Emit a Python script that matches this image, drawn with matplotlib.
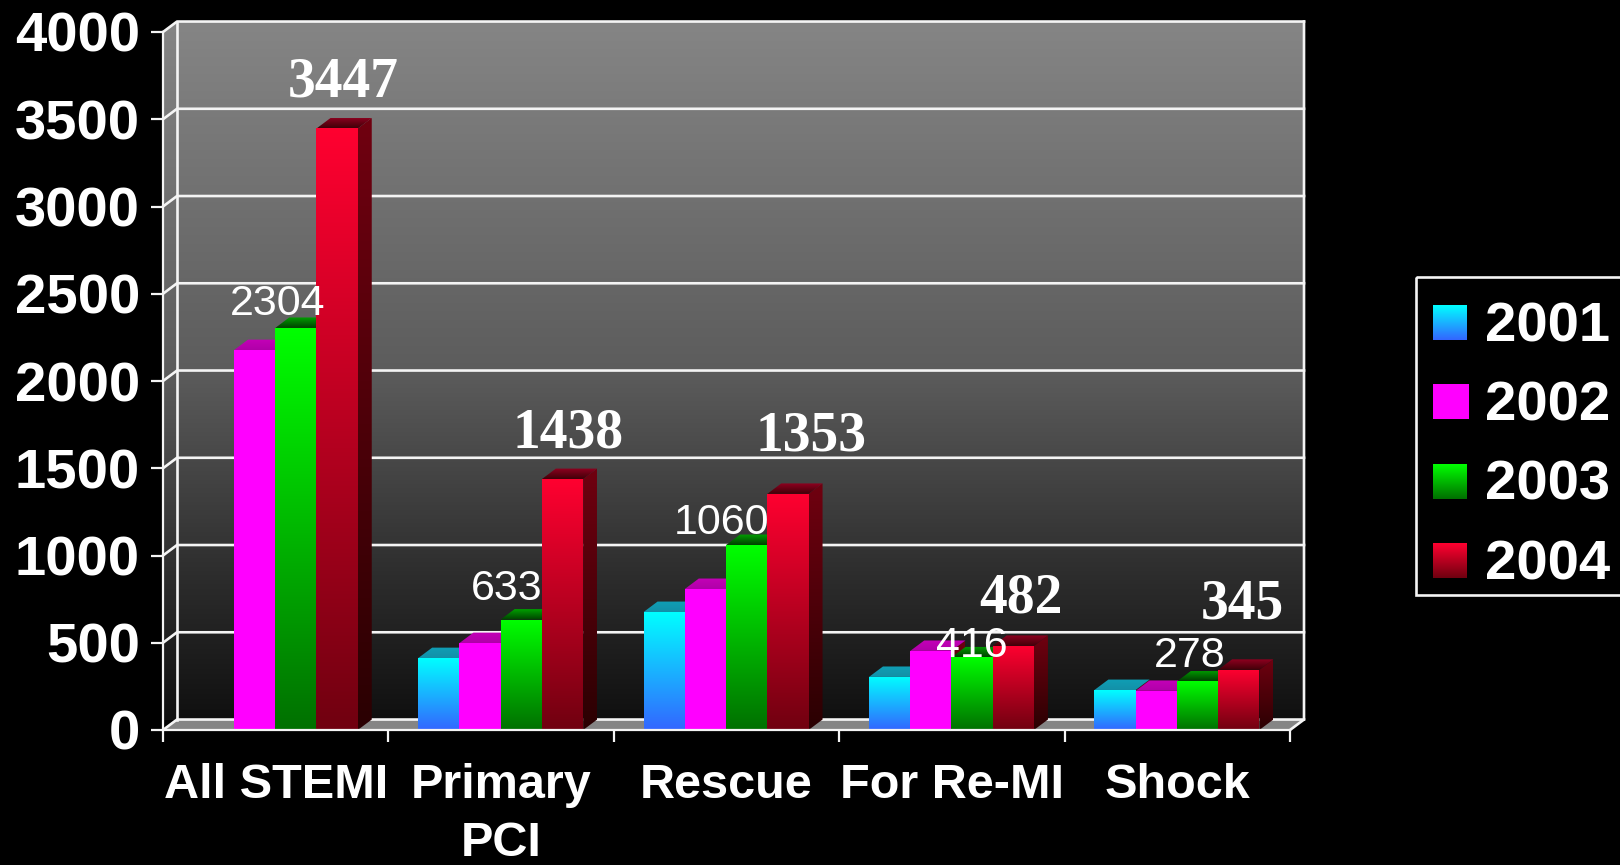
import numpy as np
import matplotlib
matplotlib.use("Agg")
import matplotlib.pyplot as plt
from matplotlib.colors import LinearSegmentedColormap
from matplotlib.patches import Polygon, Rectangle

# data
categories = ["All STEMI", "Primary\nPCI", "Rescue", "For Re-MI", "Shock"]
years = ["2001", "2002", "2003", "2004"]
v2001 = [np.nan, 412, 676, 304, 229]
v2002 = [2177, 498, 808, 453, 224]
v2003 = [2304, 633, 1060, 416, 278]
v2004 = [3447, 1438, 1353, 482, 345]
yticks = [0, 500, 1000, 1500, 2000, 2500, 3000, 3500, 4000]

# front colour, bottom colour, top-face colours
styles = [
    ("#00ffff", "#3366ff", "#0f9fb5", "#1390a8"),
    ("#ff00ff", "#ff00ff", "#c400b8", "#b000a8"),
    ("#00ff00", "#007000", "#00a000", "#004000"),
    ("#ff0030", "#700010", "#900020", "#400008"),
]
side_top, side_bot = "#700010", "#2a0002"

# pixel offsets of the value labels from the bar top centre
green_nudge = [(-18, 13), (-15, 20), (-25, 11), (0, 0), (-8, 14)]
red_nudge = [(6, 32), (6, 32), (23, 43), (8, 33), (4, 51)]

W, H = 1620, 865
fig = plt.figure(figsize=(W / 100, H / 100), dpi=100, facecolor="black")
ax = fig.add_axes([163 / W, 1 - 730 / H, (1290 - 163) / W, (730 - 32) / H])
ax.set_facecolor("none")

DX = 14 / 225.4   # depth of the 3d box in data units
DY = 60
BAR = 0.183
START = 0.132


def shade(poly, top, bottom, z):
    pts = np.array(poly)
    cmap = LinearSegmentedColormap.from_list("g", [top, bottom])
    ramp = np.linspace(0, 1, 256).reshape(-1, 1)
    im = ax.imshow(ramp, cmap=cmap, aspect="auto", zorder=z,
                   extent=(pts[:, 0].min(), pts[:, 0].max(), pts[:, 1].min(), pts[:, 1].max()))
    im.set_clip_box(fig.bbox)
    im.set_clip_path(Polygon(pts, transform=ax.transData))


# back wall
wall_pts = [(0, 0), (0, 4000), (DX, 4000 + DY), (5 + DX, 4000 + DY), (5 + DX, DY), (5, 0)]
wall_cmap = LinearSegmentedColormap.from_list(
    "wall", [(0, "#858585"), (0.5, "#5c5c5c"), (0.8, "#2c2c2c"), (1, "#101010")])
im = ax.imshow(np.linspace(0, 1, 256).reshape(-1, 1), cmap=wall_cmap, aspect="auto", zorder=1,
               extent=(0, 5 + DX, DY, 4000 + DY))
im.set_clip_box(fig.bbox)
im.set_clip_path(Polygon(wall_pts, transform=ax.transData))

# floor
ax.add_patch(Polygon([(0, 0), (DX, DY), (5 + DX, DY), (5, 0)], facecolor="#858585",
                     edgecolor="none", zorder=2, clip_on=False))

# grid and box edges
line = dict(color="#f4f4f4", lw=1.9, clip_on=False, zorder=3, solid_capstyle="projecting")
for t in yticks:
    ax.plot([0, DX, 5 + DX], [t, t + DY, t + DY], **line)
ax.plot([DX, DX], [DY, 4000 + DY], **line)
ax.plot([5, 5 + DX, 5 + DX], [0, DY, 4000 + DY], **line)

# bars
series = [v2001, v2002, v2003, v2004]
z = 10
for c in range(len(categories)):
    for s, vals in enumerate(series):
        v = vals[c]
        if np.isnan(v):
            continue
        x0 = c + START + s * BAR
        x1 = x0 + BAR
        front, bottom, top_back, top_front = styles[s]
        shade([(x1, 0), (x1 + DX, DY), (x1 + DX, v + DY), (x1, v)], side_top, side_bot, z)
        shade([(x0, v), (x0 + DX, v + DY), (x1 + DX, v + DY), (x1, v)], top_back, top_front, z + 1)
        shade([(x0, 0), (x0, v), (x1, v), (x1, 0)], front, bottom, z + 2)
        z += 3

# value labels
for c in range(len(categories)):
    gx = c + START + 2.5 * BAR
    ax.annotate(str(v2003[c]), (gx, v2003[c]), xytext=green_nudge[c], textcoords="offset pixels",
                ha="center", va="baseline", color="white", fontsize=31,
                family="Liberation Sans", zorder=100, annotation_clip=False)
    rx = c + START + 3.5 * BAR
    ax.annotate(str(v2004[c]), (rx, v2004[c]), xytext=red_nudge[c], textcoords="offset pixels",
                ha="center", va="baseline", color="white", fontsize=40, fontweight="bold",
                family="Liberation Serif", zorder=100, annotation_clip=False)

ax.set_xlim(0, 5)
ax.set_ylim(0, 4000)

for name in ["top", "right"]:
    ax.spines[name].set_visible(False)
for name in ["left", "bottom"]:
    ax.spines[name].set_color("#f4f4f4")
    ax.spines[name].set_linewidth(1.6)
    ax.spines[name].set_zorder(200)

ax.set_yticks(yticks)
ax.set_yticklabels([str(t) for t in yticks], fontsize=40.5, fontweight="bold",
                   family="Liberation Sans", color="white")
ax.tick_params(axis="y", colors="#f4f4f4", length=8.6, width=1.6, pad=8, labelcolor="white")
ax.set_xticks(range(6))
ax.set_xticklabels([])
ax.set_xticks(np.arange(0.5, 5), minor=True)
ax.set_xticklabels(categories, minor=True, fontsize=35, fontweight="bold",
                   family="Liberation Sans", color="white", linespacing=1.36)
ax.tick_params(axis="x", which="major", colors="#f4f4f4", length=8.6, width=1.6)
ax.tick_params(axis="x", which="minor", length=0, pad=24, labelcolor="white")

# legend, laid out in figure pixels
swatch_w = [34, 36, 34, 34]
leg = fig.add_axes([0, 0, 1, 1], facecolor="none")
leg.set_xlim(0, W)
leg.set_ylim(H, 0)
leg.axis("off")
leg.add_patch(Rectangle((1416, 277), 260, 318, facecolor="none", edgecolor="#f4f4f4", lw=1.9))
for i, y in enumerate(years):
    top = 305 + i * 79.5
    front, bottom = styles[i][:2]
    cmap = LinearSegmentedColormap.from_list("g", [front, bottom])
    leg.imshow(np.linspace(0, 1, 64).reshape(-1, 1), cmap=cmap, aspect="auto",
               extent=(1433, 1433 + swatch_w[i], top + 35, top))
    leg.text(1485, top + 36, y, color="white", fontsize=40.5, fontweight="bold",
             family="Liberation Sans", va="baseline", ha="left")
leg.set_xlim(0, W)
leg.set_ylim(H, 0)

fig.savefig("out.png", dpi=100, facecolor="black")
